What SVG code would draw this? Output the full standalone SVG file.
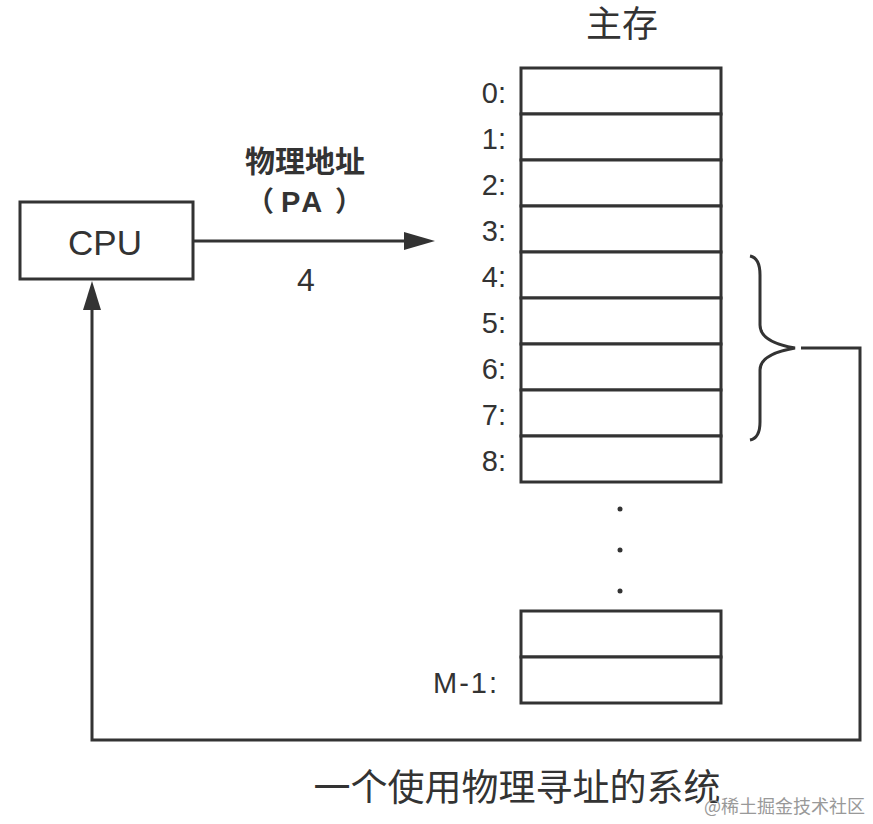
<svg xmlns="http://www.w3.org/2000/svg" width="873" height="824" viewBox="0 0 873 824">
<defs>
<style>
.ln{fill:none;stroke:#333;stroke-width:3}
.cell{fill:#fff;stroke:#333;stroke-width:3}
.t{font-family:"Liberation Sans","Noto Sans CJK SC",sans-serif;fill:#333}
.lbl{font-size:29px;text-anchor:end}
.num{font-size:32px;text-anchor:middle}
.ah{fill:#333}
</style>
</defs>
<rect width="873" height="824" fill="#fff"/>
<g id="cpu">
<rect x="20" y="202" width="173" height="77" class="cell"/>
<text x="105" y="255" class="t" font-size="35" text-anchor="middle" fill="#3a3a3a">CPU</text>
</g>
<g id="pa-label">
<text x="305" y="172" class="t" font-size="30" font-weight="bold" text-anchor="middle">物理地址</text>
<text y="212" class="t" font-size="28" font-weight="bold"><tspan x="246">（</tspan><tspan x="281" font-size="29" letter-spacing="3">PA</tspan><tspan x="335">）</tspan></text>
<text x="306" y="291" class="t num">4</text>
</g>
<g id="memory">
<text x="622" y="37" class="t" font-size="36" text-anchor="middle">主存</text>
<rect x="521" y="68" width="200" height="46" class="cell"/>
<rect x="521" y="114" width="200" height="46" class="cell"/>
<rect x="521" y="160" width="200" height="46" class="cell"/>
<rect x="521" y="206" width="200" height="46" class="cell"/>
<rect x="521" y="252" width="200" height="46" class="cell"/>
<rect x="521" y="298" width="200" height="46" class="cell"/>
<rect x="521" y="344" width="200" height="46" class="cell"/>
<rect x="521" y="390" width="200" height="46" class="cell"/>
<rect x="521" y="436" width="200" height="46" class="cell"/>
<rect x="521" y="611" width="200" height="46" class="cell"/>
<rect x="521" y="657" width="200" height="46" class="cell"/>
<g class="t lbl">
<text x="506" y="103">0:</text>
<text x="506" y="149">1:</text>
<text x="506" y="195">2:</text>
<text x="506" y="241">3:</text>
<text x="506" y="287">4:</text>
<text x="506" y="333">5:</text>
<text x="506" y="379">6:</text>
<text x="506" y="425">7:</text>
<text x="506" y="471">8:</text>
<text x="499" y="693" letter-spacing="2">M-1:</text>
</g>
<circle cx="620" cy="509" r="2.5" fill="#333"/>
<circle cx="620" cy="550" r="2.5" fill="#333"/>
<circle cx="620" cy="591" r="2.5" fill="#333"/>
</g>
<g id="connectors">
<line x1="193" y1="241" x2="408" y2="241" class="ln"/>
<polygon points="435,241 404,232 404,250" class="ah"/>
<path d="M750,256 Q760,258 760,275 L760,325 Q760,342 795,348 Q760,354 760,370 L760,422 Q760,438 750,440" class="ln"/>
<polyline points="801,348 860,348 860,740 92,740 92,305" class="ln"/>
<polygon points="92,281 83,310 101,310" class="ah"/>
</g>
<g id="caption">
<text x="517" y="801" class="t" font-size="37" text-anchor="middle">一个使用物理寻址的系统</text>
<text x="865" y="813" font-family="'Noto Sans CJK SC',sans-serif" font-size="18" fill="#999" text-anchor="end">@稀土掘金技术社区</text>
</g>
</svg>
